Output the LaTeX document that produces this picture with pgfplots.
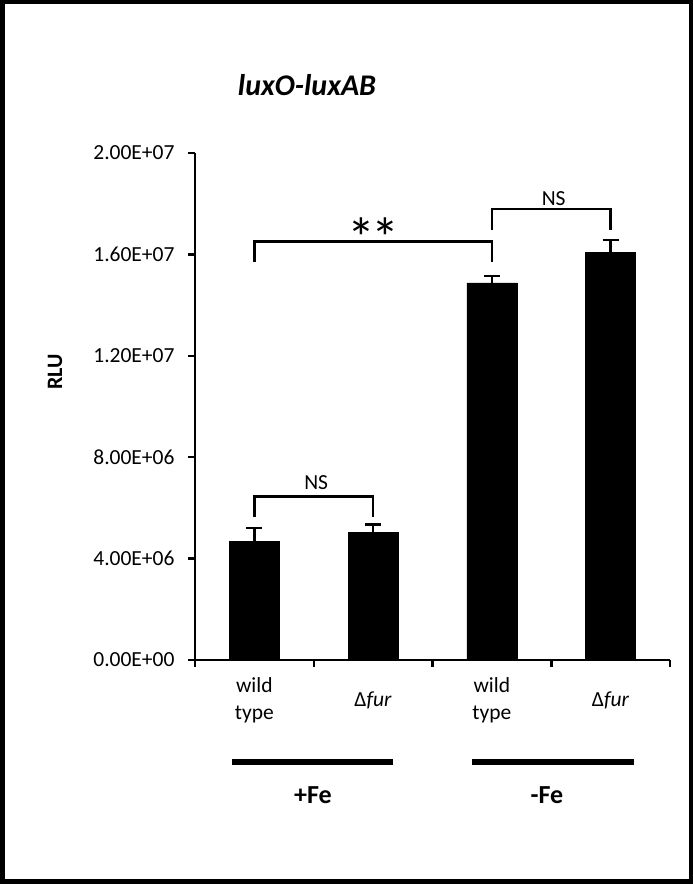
\documentclass[border=0pt]{standalone}
\usepackage{fontspec}
\setmainfont{Carlito}
\usepackage{pgfplots}
\pgfplotsset{compat=1.18}
\begin{document}
\begin{tikzpicture}[x=1bp,y=1bp]
\useasboundingbox (0,0) rectangle (693,884);
\draw[line width=4.5bp] (2.25,2.5) rectangle (690.75,881.75);
\begin{axis}[
  at={(195bp,224bp)}, anchor=south west,
  scale only axis, width=475bp, height=507bp,
  xmin=-0.5, xmax=3.5, ymin=0, ymax=2e7,
  axis x line*=bottom, axis y line*=left,
  axis line style={line width=2.5bp},
  every tick/.style={black, line width=2.5bp},
  tick align=outside,
  major tick length=7bp,
  clip=false,
  scaled y ticks=false,
  ytick={0,4000000,8000000,12000000,16000000,20000000},
  yticklabels={0.00E+00,4.00E+06,8.00E+06,1.20E+07,1.60E+07,2.00E+07},
  xtick={-0.5,0.5,1.5,2.5,3.5},
  xticklabels={},
  extra x ticks={0,1,2,3},
  extra x tick labels={{wild\\type},{Δ\textit{fur}},{wild\\type},{Δ\textit{fur}}},
  extra x tick style={major tick length=0pt,
     xticklabel style={anchor=center, yshift=-40bp, align=center}},
  tick label style={font=\fontsize{21.5bp}{27bp}\selectfont},
  yticklabel style={xshift=-10bp},
]
\addplot[ybar, bar width=50bp, fill=black, draw=black,
  error bars/.cd, y dir=plus, y explicit,
  error bar style={line width=2.5bp},
  error mark options={rotate=90, mark size=8bp, line width=2.5bp}]
  coordinates {
  (0,4670000) +- (0,530000)
  (1,5040000) +- (0,300000)
  (2,14880000) +- (0,270000)
  (3,16090000) +- (0,480000)
  };
\draw[line width=2.5bp] (axis cs:0,5650000) -- (axis cs:0,6440000) -- (axis cs:1,6440000) -- (axis cs:1,5650000);
\node[font=\fontsize{21.5bp}{26bp}\selectfont] at (axis cs:0.52,6980000) {NS};
\draw[line width=2.5bp] (axis cs:0,15700000) -- (axis cs:0,16500000) -- (axis cs:2,16500000) -- (axis cs:2,15700000);
\node[anchor=base, font=\fontsize{56bp}{60bp}\selectfont] at (axis cs:1,15860000) {*\kern-4bp*};
\draw[line width=2.5bp] (axis cs:2,16960000) -- (axis cs:2,17790000) -- (axis cs:3,17790000) -- (axis cs:3,16960000);
\node[font=\fontsize{21.5bp}{26bp}\selectfont] at (axis cs:2.52,18190000) {NS};
\end{axis}
\draw[line width=6bp] (232,122) -- (393,122);
\draw[line width=6bp] (472,122) -- (634,122);
\node[font=\fontsize{26bp}{30bp}\selectfont\bfseries] at (313,89) {+Fe};
\node[font=\fontsize{26bp}{30bp}\selectfont\bfseries] at (547,89) {-Fe};
\node[font=\fontsize{30bp}{36bp}\selectfont\bfseries\itshape] at (307,799) {luxO-luxAB};
\node[rotate=90, font=\fontsize{22bp}{26bp}\selectfont\bfseries] at (55,512) {RLU};
\end{tikzpicture}
\end{document}
